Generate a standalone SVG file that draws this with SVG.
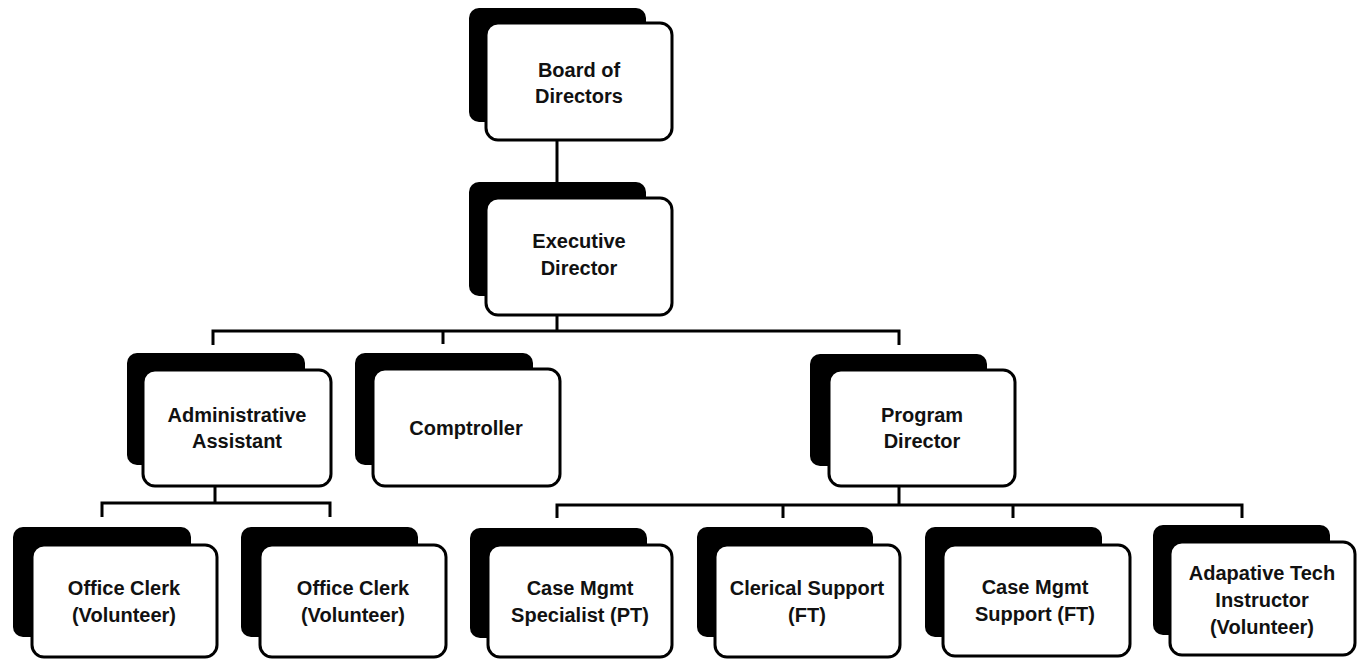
<svg xmlns="http://www.w3.org/2000/svg" width="1363" height="660" viewBox="0 0 1363 660">
<style>
.sh{fill:#000}
.fr{fill:#fff;stroke:#000;stroke-width:3}
.t{font-family:"Liberation Sans",Arial,sans-serif;font-weight:bold;font-size:20px;fill:#111;text-anchor:middle}
.c{fill:none;stroke:#000;stroke-width:3}
</style>
<rect width="1363" height="660" fill="#fff"/>
<g id="connectors">
<path class="c" d="M557 140V182"/>
<path class="c" d="M557 315V331M213 345V331H899V345M443 331V344"/>
<path class="c" d="M215 486V503M102 517V503H330V517"/>
<path class="c" d="M899 486V505M557 518V505H1242V518M783 505V518M1013 505V518"/>
</g>
<g id="board">
<rect class="sh" x="469" y="8" width="177" height="114" rx="10"/>
<rect class="fr" x="486" y="23" width="186" height="117" rx="12"/>
<text class="t" x="579" y="77">Board of</text>
<text class="t" x="579" y="103">Directors</text>
</g>
<g id="exec">
<rect class="sh" x="469" y="182" width="177" height="114" rx="10"/>
<rect class="fr" x="486" y="198" width="186" height="117" rx="12"/>
<text class="t" x="579" y="248">Executive</text>
<text class="t" x="579" y="275">Director</text>
</g>
<g id="admin">
<rect class="sh" x="127" y="353" width="178" height="112" rx="10"/>
<rect class="fr" x="143" y="370" width="188" height="116" rx="12"/>
<text class="t" x="237" y="422">Administrative</text>
<text class="t" x="237" y="448">Assistant</text>
</g>
<g id="comptroller">
<rect class="sh" x="355" y="353" width="178" height="112" rx="10"/>
<rect class="fr" x="373" y="369" width="187" height="117" rx="12"/>
<text class="t" x="466" y="435">Comptroller</text>
</g>
<g id="program">
<rect class="sh" x="810" y="354" width="177" height="112" rx="10"/>
<rect class="fr" x="829" y="370" width="186" height="116" rx="12"/>
<text class="t" x="922" y="422">Program</text>
<text class="t" x="922" y="448">Director</text>
</g>
<g id="clerk1">
<rect class="sh" x="13" y="527" width="178" height="110" rx="10"/>
<rect class="fr" x="32" y="545" width="185" height="112" rx="12"/>
<text class="t" x="124" y="595">Office Clerk</text>
<text class="t" x="124" y="622">(Volunteer)</text>
</g>
<g id="clerk2">
<rect class="sh" x="241" y="527" width="177" height="110" rx="10"/>
<rect class="fr" x="260" y="545" width="186" height="112" rx="12"/>
<text class="t" x="353" y="595">Office Clerk</text>
<text class="t" x="353" y="622">(Volunteer)</text>
</g>
<g id="cms">
<rect class="sh" x="470" y="528" width="177" height="110" rx="10"/>
<rect class="fr" x="488" y="545" width="184" height="112" rx="12"/>
<text class="t" x="580" y="595">Case Mgmt</text>
<text class="t" x="580" y="622">Specialist (PT)</text>
</g>
<g id="clerical">
<rect class="sh" x="697" y="527" width="176" height="110" rx="10"/>
<rect class="fr" x="715" y="545" width="185" height="112" rx="12"/>
<text class="t" x="807" y="595">Clerical Support</text>
<text class="t" x="807" y="622">(FT)</text>
</g>
<g id="cmsupport">
<rect class="sh" x="925" y="527" width="177" height="110" rx="10"/>
<rect class="fr" x="943" y="545" width="187" height="111" rx="12"/>
<text class="t" x="1035" y="594">Case Mgmt</text>
<text class="t" x="1035" y="621">Support (FT)</text>
</g>
<g id="adaptive">
<rect class="sh" x="1153" y="525" width="177" height="110" rx="10"/>
<rect class="fr" x="1170" y="542" width="185" height="113" rx="12"/>
<text class="t" x="1262" y="580">Adapative Tech</text>
<text class="t" x="1262" y="607">Instructor</text>
<text class="t" x="1262" y="634">(Volunteer)</text>
</g>
</svg>
